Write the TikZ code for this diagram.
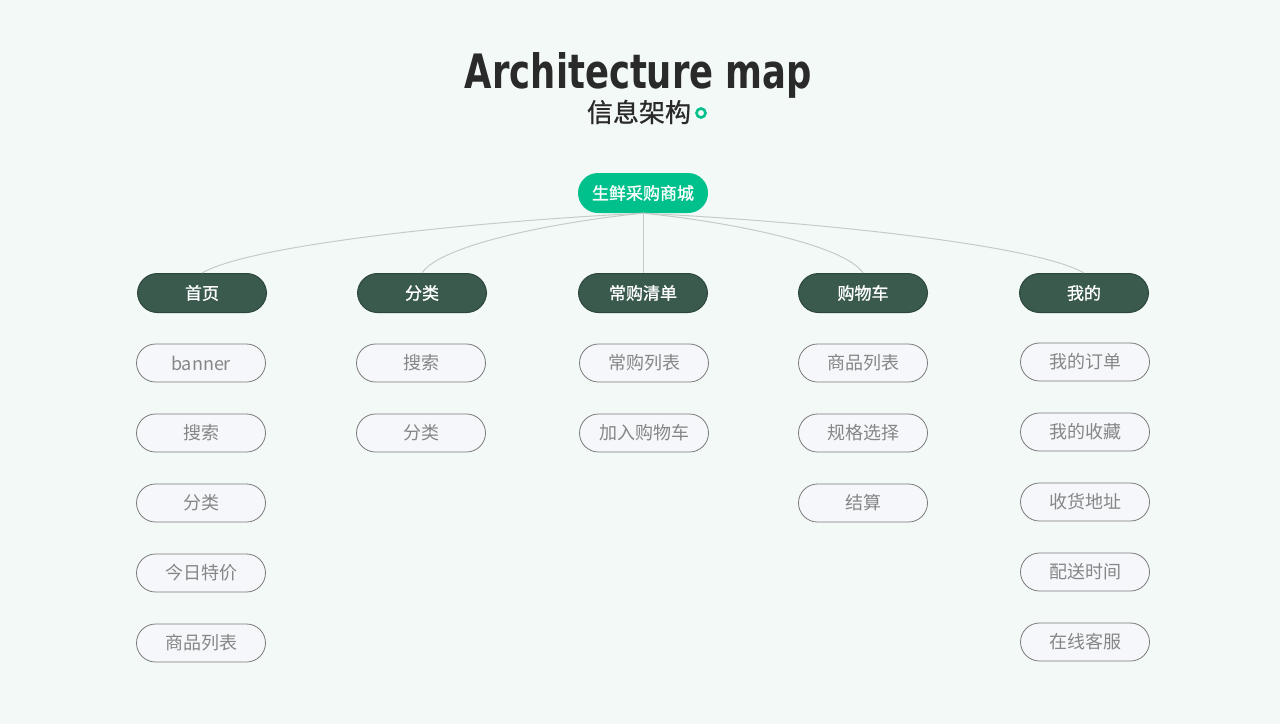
\documentclass[tikz,border=0pt]{standalone}
\usepackage{fontspec}
\usepackage{graphicx}
\setmainfont{Noto Sans CJK SC}
\newfontfamily\medfont{Noto Sans CJK SC}[FakeBold=1.2]
\newfontfamily\subfont{Noto Sans CJK SC}[FakeBold=0.8]
\newfontfamily\titlefont{DejaVu Sans}
\definecolor{bgc}{HTML}{F3F9F6}
\definecolor{rootc}{HTML}{00C08B}
\definecolor{lvone}{HTML}{3A5A4E}
\definecolor{lvoneb}{HTML}{2C463C}
\definecolor{lvtwo}{HTML}{F5F7FB}
\definecolor{lvtwob}{HTML}{7A7A7A}
\definecolor{lvtwot}{HTML}{868686}
\definecolor{linkc}{HTML}{C4CCC8}
\definecolor{titlec}{HTML}{2A2A2A}
\tikzset{
  rootbox/.style={rounded corners=20pt, fill=rootc, minimum width=130pt, minimum height=40pt, inner sep=0pt, text=white, font=\fontsize{17}{20}\medfont},
  onebox/.style={rounded corners=20pt, fill=lvone, draw=lvoneb, line width=1pt, minimum width=129pt, minimum height=39pt, inner sep=0pt, text=white, font=\fontsize{17}{20}\medfont},
  twobox/.style={rounded corners=19pt, fill=lvtwo, draw=lvtwob, line width=0.8pt, minimum width=129pt, minimum height=38pt, inner sep=0pt, text=lvtwot, font=\fontsize{18}{21}\selectfont},
  link/.style={draw=linkc, line width=1pt}
}
\begin{document}
\begin{tikzpicture}[x=1pt,y=-1pt]
\fill[bgc] (0,0) rectangle (1280,724);
\useasboundingbox (0,0) rectangle (1280,724);
% title
\node[anchor=base, inner sep=0pt, text=titlec] (title) at (638.5,88) {\resizebox{347pt}{36pt}{\titlefont\bfseries Architecture map}};
\node[anchor=center, inner sep=0pt, text=titlec, font=\fontsize{26}{30}\subfont] (sub) at (639,112) {信息架构};
\node[draw=rootc, line width=2.6pt, circle, minimum size=9pt, inner sep=0pt] (dot) at (701,113) {};
% root
\node[rootbox] (root) at (643,193) {生鲜采购商城};
% level 1
\node[onebox] (a) at (202,293) {首页};
\node[onebox] (b) at (422,293) {分类};
\node[onebox] (c) at (643,293) {常购清单};
\node[onebox] (d) at (863,293) {购物车};
\node[onebox] (e) at (1084,293) {我的};
% links
\draw[link] (root.south) .. controls (467,222) and (250,245) .. (a.north);
\draw[link] (root.south) .. controls (555,222) and (440,245) .. (b.north);
\draw[link] (root.south) -- (c.north);
\draw[link] (root.south) .. controls (731,222) and (845,245) .. (d.north);
\draw[link] (root.south) .. controls (819,222) and (1036,245) .. (e.north);
% level 2
\node[twobox] (a1) at (201,363) {banner};
\node[twobox] (a2) at (201,433) {搜索};
\node[twobox] (a3) at (201,503) {分类};
\node[twobox] (a4) at (201,573) {今日特价};
\node[twobox] (a5) at (201,643) {商品列表};
\node[twobox] (b1) at (421,363) {搜索};
\node[twobox] (b2) at (421,433) {分类};
\node[twobox] (c1) at (644,363) {常购列表};
\node[twobox] (c2) at (644,433) {加入购物车};
\node[twobox] (d1) at (863,363) {商品列表};
\node[twobox] (d2) at (863,433) {规格选择};
\node[twobox] (d3) at (863,503) {结算};
\node[twobox] (e1) at (1085,362) {我的订单};
\node[twobox] (e2) at (1085,432) {我的收藏};
\node[twobox] (e3) at (1085,502) {收货地址};
\node[twobox] (e4) at (1085,572) {配送时间};
\node[twobox] (e5) at (1085,642) {在线客服};
\end{tikzpicture}
\end{document}
